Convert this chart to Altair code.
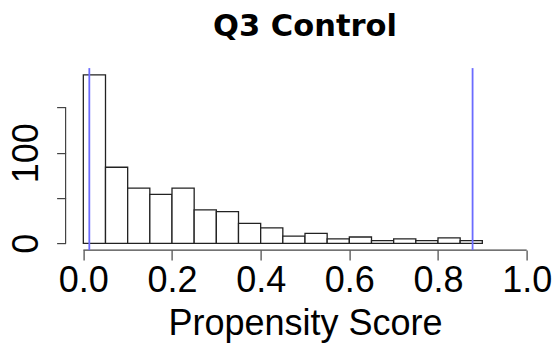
import altair as alt
import pandas as pd

# Histogram bins (left/right edges) and counts
bin_start = [0.00, 0.05, 0.10, 0.15, 0.20, 0.25, 0.30, 0.35, 0.40,
             0.45, 0.50, 0.55, 0.60, 0.65, 0.70, 0.75, 0.80, 0.85]
bin_end = [0.05, 0.10, 0.15, 0.20, 0.25, 0.30, 0.35, 0.40, 0.45,
           0.50, 0.55, 0.60, 0.65, 0.70, 0.75, 0.80, 0.85, 0.90]
counts = [186, 84, 61, 54, 61, 37, 35, 22, 17,
          8, 11, 5, 7, 3, 5, 3, 6, 3]

# Reference lines (range of the treated scores)
cutoffs = [0.0135, 0.878]

x_ticks = [0.0, 0.2, 0.4, 0.6, 0.8, 1.0]
y_ticks = [0, 50, 100, 150]
y_labelled = [0, 100]

# R-style plot region: 4% padding beyond the data limits
x_lim = [-0.04, 1.04]
y_lim = [-7.44, 193.44]

FONT = "Liberation Sans"
TITLE_FONT = "DejaVu Sans"

hist = pd.DataFrame({"x": bin_start, "x2": bin_end, "y": counts,
                     "y2": [0] * len(counts)})
vlines = pd.DataFrame({"x": cutoffs, "x2": cutoffs,
                       "y": [y_lim[0]] * len(cutoffs),
                       "y2": [y_lim[1]] * len(cutoffs)})
x_axis_line = pd.DataFrame({"x": [x_ticks[0]], "x2": [x_ticks[-1]],
                            "y": [y_lim[0]], "y2": [y_lim[0]]})
y_axis_line = pd.DataFrame({"x": [x_lim[0]], "x2": [x_lim[0]],
                            "y": [y_ticks[0]], "y2": [y_ticks[-1]]})

x_scale = alt.Scale(domain=x_lim, nice=False, zero=False)
y_scale = alt.Scale(domain=y_lim, nice=False, zero=False)

label_test = " || ".join(f"datum.value == {v}" for v in y_labelled)

x_axis = alt.Axis(
    values=x_ticks, format=".1f", domain=False, grid=False,
    tickSize=10, tickColor="#444444", tickWidth=1.2,
    labelFont=FONT, labelFontSize=36, labelColor="black",
    labelBaseline="alphabetic", labelPadding=31, labelFlush=False,
    labelOverlap=False,
    title="Propensity Score", titleFont=FONT, titleFontSize=36,
    titleFontWeight="normal", titleColor="black",
    titleBaseline="alphabetic", titleY=84, titleAnchor="middle")

y_axis = alt.Axis(
    values=y_ticks, format="d", domain=False, grid=False,
    tickSize=9, tickColor="#444444", tickWidth=1.2,
    labelExpr=f"({label_test}) ? datum.label : ''",
    labelFont=FONT, labelFontSize=36, labelColor="black",
    labelAngle=270, labelAlign="center", labelBaseline="alphabetic",
    labelPadding=19, labelFlush=False, labelOverlap=False, title="")


def encode(chart):
    return chart.encode(
        x=alt.X("x:Q", scale=x_scale, axis=x_axis),
        x2="x2:Q",
        y=alt.Y("y:Q", scale=y_scale, axis=y_axis),
        y2="y2:Q",
    )


bars = encode(alt.Chart(hist).mark_rect(
    fill="white", stroke="#222222", strokeWidth=1.3))
xline = encode(alt.Chart(x_axis_line).mark_rule(color="#444444", strokeWidth=1.2))
yline = encode(alt.Chart(y_axis_line).mark_rule(color="#444444", strokeWidth=1.2))
blue = encode(alt.Chart(vlines).mark_rule(color="#6b6bff", strokeWidth=1.8))

chart = alt.layer(bars, xline, yline, blue).properties(
    width=478.8,
    height=182,
    background="white",
    autosize=alt.AutoSizeParams(type="none"),
    padding={"left": 65.6, "top": 68.1, "right": 10.6, "bottom": 95.9},
    title=alt.TitleParams(
        "Q3 Control", font=TITLE_FONT, fontSize=30.5, fontWeight="bold",
        color="black", anchor="middle", baseline="alphabetic", offset=1,
        frame="group"),
).configure_view(stroke=None)

chart.save("out.html", embed_options={"renderer": "svg", "actions": False})
